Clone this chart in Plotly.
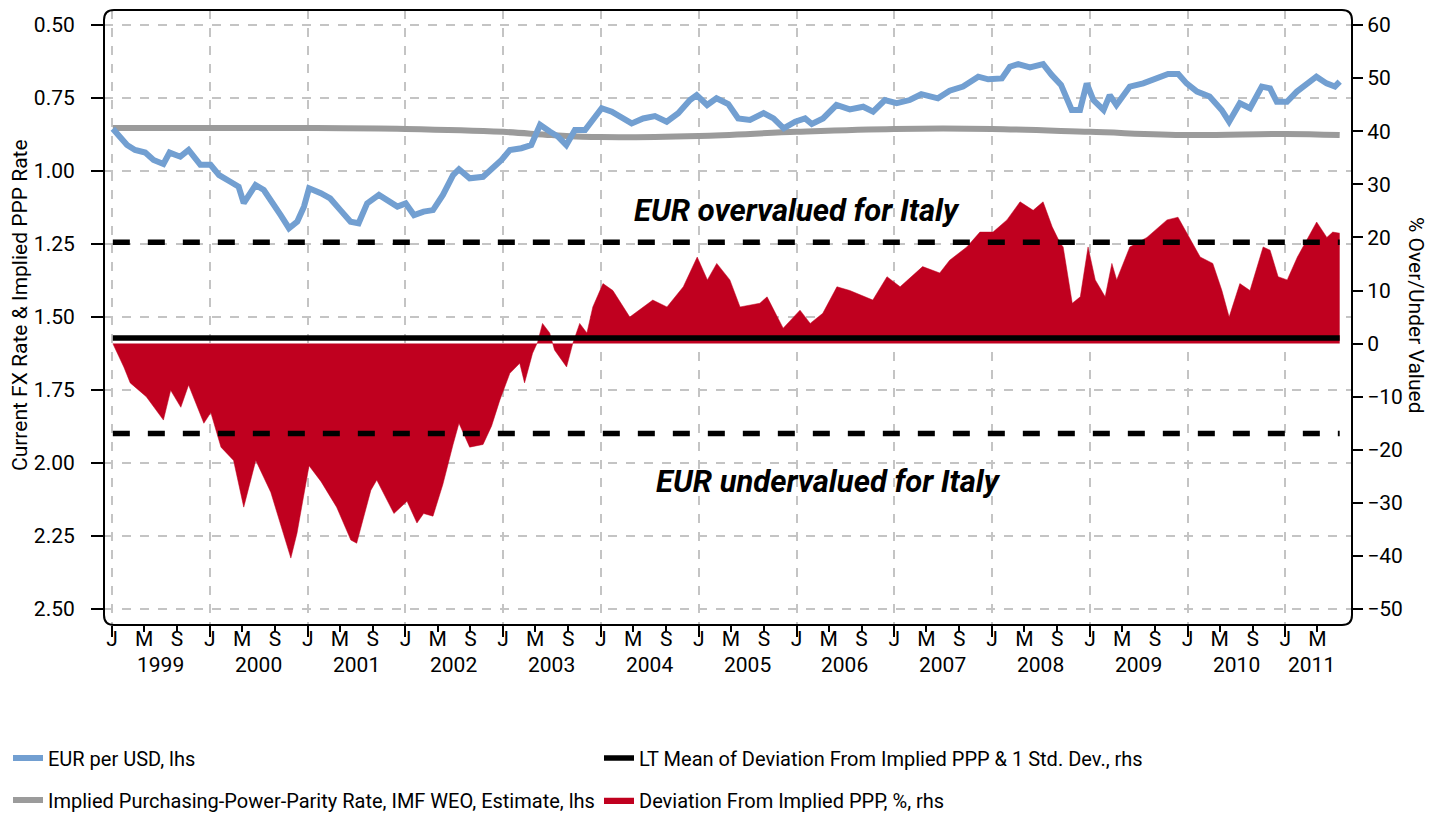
import plotly.graph_objects as go

# ---------------- data ----------------
fx_dates = [
    "1999-01-04", "1999-02-02", "1999-02-26", "1999-03-28", "1999-05-05", "1999-06-05", "1999-07-12",
    "1999-08-04", "1999-09-13", "1999-10-14", "1999-11-27", "2000-01-04", "2000-02-05", "2000-03-18",
    "2000-04-18", "2000-05-07", "2000-06-20", "2000-07-21", "2000-08-21", "2000-09-22", "2000-10-23",
    "2000-11-23", "2000-12-18", "2001-01-06", "2001-02-19", "2001-03-26", "2001-05-03", "2001-06-10",
    "2001-07-10", "2001-08-11", "2001-09-24", "2001-10-25", "2001-12-02", "2002-01-02", "2002-02-02",
    "2002-03-10", "2002-04-14", "2002-05-21", "2002-06-28", "2002-07-20", "2002-08-29", "2002-10-18",
    "2002-11-19", "2002-12-26", "2003-01-26", "2003-03-10", "2003-04-16", "2003-05-19", "2003-06-24",
    "2003-07-25", "2003-08-25", "2003-09-26", "2003-11-03", "2003-12-03", "2004-01-04", "2004-02-11",
    "2004-03-12", "2004-04-25", "2004-06-07", "2004-07-21", "2004-09-03", "2004-10-16", "2004-11-29",
    "2004-12-24", "2005-02-01", "2005-03-08", "2005-04-21", "2005-05-28", "2005-07-11", "2005-08-31",
    "2005-10-07", "2005-11-14", "2005-12-27", "2006-02-02", "2006-02-27", "2006-04-10", "2006-05-30",
    "2006-07-19", "2006-09-07", "2006-10-14", "2006-11-27", "2007-01-10", "2007-02-28", "2007-04-12",
    "2007-06-13", "2007-07-27", "2007-09-15", "2007-11-11", "2007-12-18", "2008-02-07", "2008-03-08",
    "2008-04-08", "2008-05-22", "2008-07-10", "2008-08-11", "2008-09-15", "2008-10-25", "2008-11-25",
    "2008-12-20", "2009-01-14", "2009-02-21", "2009-03-16", "2009-04-10", "2009-05-30", "2009-07-19",
    "2009-09-08", "2009-10-20", "2009-11-27", "2009-12-28", "2010-02-05", "2010-03-24", "2010-05-08",
    "2010-06-05", "2010-07-15", "2010-08-22", "2010-10-05", "2010-11-05", "2010-11-30", "2011-01-07",
    "2011-02-13", "2011-03-20", "2011-04-27", "2011-06-04", "2011-07-05", "2011-07-23",
]
fx_values = [
    0.855, 0.883, 0.911, 0.928, 0.937, 0.962, 0.976,
    0.937, 0.951, 0.928, 0.979, 0.979, 1.014, 1.037,
    1.054, 1.110, 1.048, 1.065, 1.105, 1.151, 1.196,
    1.173, 1.122, 1.059, 1.076, 1.094, 1.134, 1.174,
    1.179, 1.111, 1.082, 1.099, 1.122, 1.111, 1.151,
    1.139, 1.134, 1.082, 1.014, 0.994, 1.025, 1.020,
    0.994, 0.962, 0.928, 0.922, 0.911, 0.842, 0.865,
    0.882, 0.911, 0.860, 0.860, 0.820, 0.785, 0.797,
    0.814, 0.837, 0.820, 0.812, 0.831, 0.802, 0.757,
    0.740, 0.774, 0.751, 0.771, 0.820, 0.825, 0.802,
    0.820, 0.854, 0.831, 0.820, 0.839, 0.820, 0.774,
    0.789, 0.780, 0.797, 0.757, 0.768, 0.757, 0.737,
    0.751, 0.725, 0.711, 0.677, 0.686, 0.683, 0.643,
    0.634, 0.645, 0.634, 0.671, 0.705, 0.791, 0.791,
    0.700, 0.757, 0.791, 0.740, 0.774, 0.711, 0.700,
    0.683, 0.668, 0.668, 0.700, 0.728, 0.745, 0.791,
    0.831, 0.768, 0.785, 0.711, 0.717, 0.763, 0.763,
    0.728, 0.705, 0.677, 0.700, 0.711, 0.694,
]

ppp_dates = ["1999-01-04", "2000-01-01", "2001-01-01", "2002-01-01", "2003-01-01", "2003-07-01",
             "2004-01-01", "2005-01-01", "2006-01-01", "2007-01-01", "2008-01-01", "2009-01-01",
             "2010-01-01", "2011-01-01", "2011-07-23"]
ppp_values = [0.853, 0.853, 0.853, 0.856, 0.866, 0.877,
              0.884, 0.880, 0.866, 0.856, 0.856, 0.866,
              0.877, 0.873, 0.877]

dev_dates = [
    "1999-01-04", "1999-02-14", "1999-03-10", "1999-05-09", "1999-07-12", "1999-08-08", "1999-09-15",
    "1999-10-14", "1999-12-10", "2000-01-05", "2000-02-12", "2000-03-30", "2000-05-07", "2000-06-21",
    "2000-08-16", "2000-09-23", "2000-10-30", "2000-11-22", "2001-01-06", "2001-02-20", "2001-04-19",
    "2001-06-11", "2001-07-03", "2001-08-25", "2001-09-16", "2001-11-19", "2002-01-07", "2002-02-13",
    "2002-03-10", "2002-04-14", "2002-05-21", "2002-06-28", "2002-07-20", "2002-08-29", "2002-10-18",
    "2002-11-19", "2002-12-20", "2003-01-26", "2003-03-04", "2003-03-22", "2003-04-21", "2003-05-10",
    "2003-05-28", "2003-06-24", "2003-07-12", "2003-08-26", "2003-09-18", "2003-10-14", "2003-11-10",
    "2003-12-02", "2004-01-09", "2004-02-15", "2004-04-18", "2004-07-13", "2004-09-04", "2004-11-04",
    "2004-12-26", "2005-02-02", "2005-03-09", "2005-04-27", "2005-06-04", "2005-08-17", "2005-09-13",
    "2005-11-12", "2006-01-14", "2006-02-21", "2006-04-09", "2006-06-01", "2006-07-19", "2006-10-13",
    "2006-12-05", "2007-01-23", "2007-04-17", "2007-06-20", "2007-07-27", "2007-09-29", "2007-11-17",
    "2008-01-05", "2008-02-26", "2008-04-15", "2008-06-03", "2008-07-10", "2008-08-13", "2008-09-12",
    "2008-09-23", "2008-10-27", "2008-11-26", "2008-12-25", "2009-01-21", "2009-02-27", "2009-03-24",
    "2009-04-11", "2009-05-30", "2009-08-02", "2009-10-16", "2009-11-26", "2009-12-30", "2010-02-17",
    "2010-04-05", "2010-05-09", "2010-06-05", "2010-07-15", "2010-08-22", "2010-10-10", "2010-11-05",
    "2010-12-05", "2011-01-08", "2011-02-15", "2011-04-28", "2011-06-05", "2011-06-27", "2011-07-23",
]
dev_values = [
    0.0, -4.4, -7.4, -10.0, -14.4, -8.8, -12.0,
    -7.8, -15.0, -13.0, -19.5, -22.0, -30.8, -22.0,
    -28.0, -34.5, -40.4, -35.7, -23.0, -26.0, -30.8,
    -37.0, -37.6, -27.6, -25.7, -32.0, -29.7, -33.8,
    -32.0, -32.5, -26.5, -19.0, -15.0, -19.5, -19.0,
    -15.5, -10.6, -5.6, -3.7, -7.4, -1.8, 0.3,
    3.8, 2.0, -1.2, -4.4, 0.0, 3.8, 2.0,
    6.9, 11.3, 10.0, 5.0, 8.2, 6.9, 10.7,
    16.3, 12.0, 15.1, 12.0, 6.9, 7.6, 8.8,
    2.9, 6.3, 3.8, 5.7, 10.7, 10.0, 8.2,
    12.6, 10.7, 14.5, 13.3, 15.7, 18.2, 21.0,
    21.0, 23.3, 26.7, 25.1, 26.7, 22.0, 18.9,
    18.2, 7.6, 8.8, 18.2, 12.0, 8.8, 15.1,
    12.0, 18.2, 20.0, 23.3, 23.8, 20.8, 16.3,
    15.1, 10.0, 5.0, 11.3, 10.0, 18.2, 17.6,
    12.6, 12.0, 16.3, 22.9, 20.0, 21.0, 20.8,
]

lt_span = ["1999-01-04", "2011-07-23"]
lt_mean = 1.05
lt_plus_sd = 19.1
lt_minus_sd = -16.95

years = list(range(1999, 2012))
j_tick_dates = [f"{y}-01-01" for y in years]
j_tick_text = ["J"] * len(years)
ms_tick_dates = [f"{y}-{m}-01" for y in years for m in ("05", "09") if not (y == 2011 and m == "09")]
ms_tick_text = ["M" if d[5:7] == "05" else "S" for d in ms_tick_dates]
year_label_dates = [f"{y}-07-01" for y in years[:-1]] + ["2011-04-10"]
year_labels = [str(y) for y in years]

lhs_ticks = [0.50, 0.75, 1.00, 1.25, 1.50, 1.75, 2.00, 2.25, 2.50]
rhs_ticks = [60, 50, 40, 30, 20, 10, 0, -10, -20, -30, -40, -50]

# ---------------- styling ----------------
FONT = "Roboto, Liberation Sans, sans-serif"
BLUE = "#729fd1"
GREY = "#9b9b9b"
RED = "#c0001f"
GRID = "#c4c4c4"

# the page body adds an 8px offset; the figure is sized so that it ends at the window edge
FIG_W, FIG_H = 1433, 811
M_L, M_R, M_T, M_B = 96, 89, 2, 194
W = FIG_W - M_L - M_R          # 1248
H = FIG_H - M_T - M_B          # 615
OFF = 8                        # screen offset of the figure


def px_x(sx):   # screen x -> paper x
    return (sx - OFF - M_L) / W


def px_y(sy):   # screen y -> paper y
    return (FIG_H - M_B + OFF - sy) / H


fig = go.Figure()

fig.add_trace(go.Scatter(
    x=dev_dates, y=dev_values, yaxis="y2", mode="lines", fill="tozeroy",
    fillcolor=RED, line=dict(color=RED, width=0.5),
    name="Deviation From Implied PPP, %, rhs", legend="legend2", legendrank=2))
fig.add_trace(go.Scatter(
    x=lt_span, y=[lt_plus_sd, lt_plus_sd], yaxis="y2", mode="lines",
    line=dict(color="black", width=5.5, dash="17px,18px"), showlegend=False))
fig.add_trace(go.Scatter(
    x=lt_span, y=[lt_minus_sd, lt_minus_sd], yaxis="y2", mode="lines",
    line=dict(color="black", width=5.5, dash="17px,18px"), showlegend=False))
fig.add_trace(go.Scatter(
    x=lt_span, y=[lt_mean, lt_mean], yaxis="y2", mode="lines",
    line=dict(color="black", width=5.5),
    name="LT Mean of Deviation From Implied PPP & 1 Std. Dev., rhs", legend="legend", legendrank=2))
fig.add_trace(go.Scatter(
    x=ppp_dates, y=ppp_values, mode="lines", line=dict(color=GREY, width=6, shape="spline", smoothing=1.0),
    name="Implied Purchasing-Power-Parity Rate, IMF WEO, Estimate, lhs", legend="legend2", legendrank=1))
fig.add_trace(go.Scatter(
    x=fx_dates, y=fx_values, xaxis="x2", mode="lines", line=dict(color=BLUE, width=6),
    name="EUR per USD, lhs", legend="legend", legendrank=1))

x_range = ["1998-12-02", "2011-09-07"]
axis_font = dict(family=FONT, size=21, color="black")
legend_font = dict(family=FONT, size=20, color="black")

fig.update_layout(
    width=FIG_W, height=FIG_H,
    margin=dict(l=M_L, r=M_R, t=M_T, b=M_B, autoexpand=False),
    paper_bgcolor="white", plot_bgcolor="white",
    font=dict(family=FONT, color="black"),
    xaxis=dict(
        type="date", range=x_range, tickmode="array", tickvals=j_tick_dates, ticktext=j_tick_text,
        ticks="outside", ticklen=11, tickwidth=2, tickcolor="black", tickfont=axis_font,
        ticklabelstandoff=-16,
        showgrid=True, gridcolor=GRID, griddash="dash", gridwidth=1.5,
        showline=False, zeroline=False, automargin=False),
    xaxis2=dict(
        type="date", range=x_range, overlaying="x", matches="x", anchor="y", side="bottom",
        tickmode="array", tickvals=ms_tick_dates, ticktext=ms_tick_text,
        ticks="outside", ticklen=6, tickwidth=2, tickcolor="black", tickfont=axis_font,
        ticklabelstandoff=-11, showgrid=False, showline=False, zeroline=False, automargin=False),
    yaxis=dict(
        range=[2.555, 0.4486], tickmode="array", tickvals=lhs_ticks, tickformat=".2f",
        ticks="outside", ticklen=12, tickwidth=2, tickcolor="black", tickfont=axis_font,
        ticklabelstandoff=12,
        showgrid=True, gridcolor=GRID, griddash="dash", gridwidth=1.5,
        showline=False, zeroline=False, automargin=False),
    yaxis2=dict(
        range=[-53.0, 62.83], overlaying="y", side="right", tickmode="array", tickvals=rhs_ticks,
        ticks="outside", ticklen=10, tickwidth=2, tickcolor="black", tickfont=axis_font,
        showgrid=False, showline=False, zeroline=False, automargin=False),
    legend=dict(
        orientation="h", xref="container", yref="container", x=-0.014, y=1 - (758 - OFF) / FIG_H,
        xanchor="left", yanchor="middle", font=legend_font,
        entrywidth=546, entrywidthmode="pixels", bgcolor="rgba(0,0,0,0)", traceorder="normal"),
    legend2=dict(
        orientation="h", xref="container", yref="container", x=-0.014, y=1 - (800 - OFF) / FIG_H,
        xanchor="left", yanchor="middle", font=legend_font,
        entrywidth=546, entrywidthmode="pixels", bgcolor="rgba(0,0,0,0)", traceorder="normal"),
)

# rounded plot frame
rx, ry = 10 / W, 10 / H
frame_path = (f"M {rx},0 L {1-rx},0 Q 1,0 1,{ry} L 1,{1-ry} Q 1,1 {1-rx},1 "
              f"L {rx},1 Q 0,1 0,{1-ry} L 0,{ry} Q 0,0 {rx},0 Z")
fig.add_shape(type="path", path=frame_path, xref="paper", yref="paper",
              line=dict(color="black", width=2), layer="above")

# year labels under the month ticks
for d, lab in zip(year_label_dates, year_labels):
    fig.add_annotation(x=d, y=px_y(665), xref="x", yref="paper", text=lab, showarrow=False,
                       font=axis_font, yanchor="middle")

# axis titles
fig.add_annotation(x=px_x(20), y=px_y(305), xref="paper", yref="paper",
                   text="Current FX Rate & Implied PPP Rate", xanchor="center", yanchor="middle",
                   showarrow=False, textangle=-90, font=dict(family=FONT, size=21, color="black"))
fig.add_annotation(x=px_x(1416), y=px_y(315), xref="paper", yref="paper",
                   text="% Over/Under Valued", xanchor="center", yanchor="middle",
                   showarrow=False, textangle=90, font=dict(family=FONT, size=21, color="black"))

# region labels
fig.add_annotation(x="2006-01-01", y=25.1, xref="x", yref="y2", text="<b><i>EUR overvalued for Italy</i></b>",
                   showarrow=False, font=dict(family=FONT, size=31, color="black"))
fig.add_annotation(x="2006-05-01", y=-25.9, xref="x", yref="y2", text="<b><i>EUR undervalued for Italy</i></b>",
                   showarrow=False, font=dict(family=FONT, size=31, color="black"))

fig.write_html("out.html")
